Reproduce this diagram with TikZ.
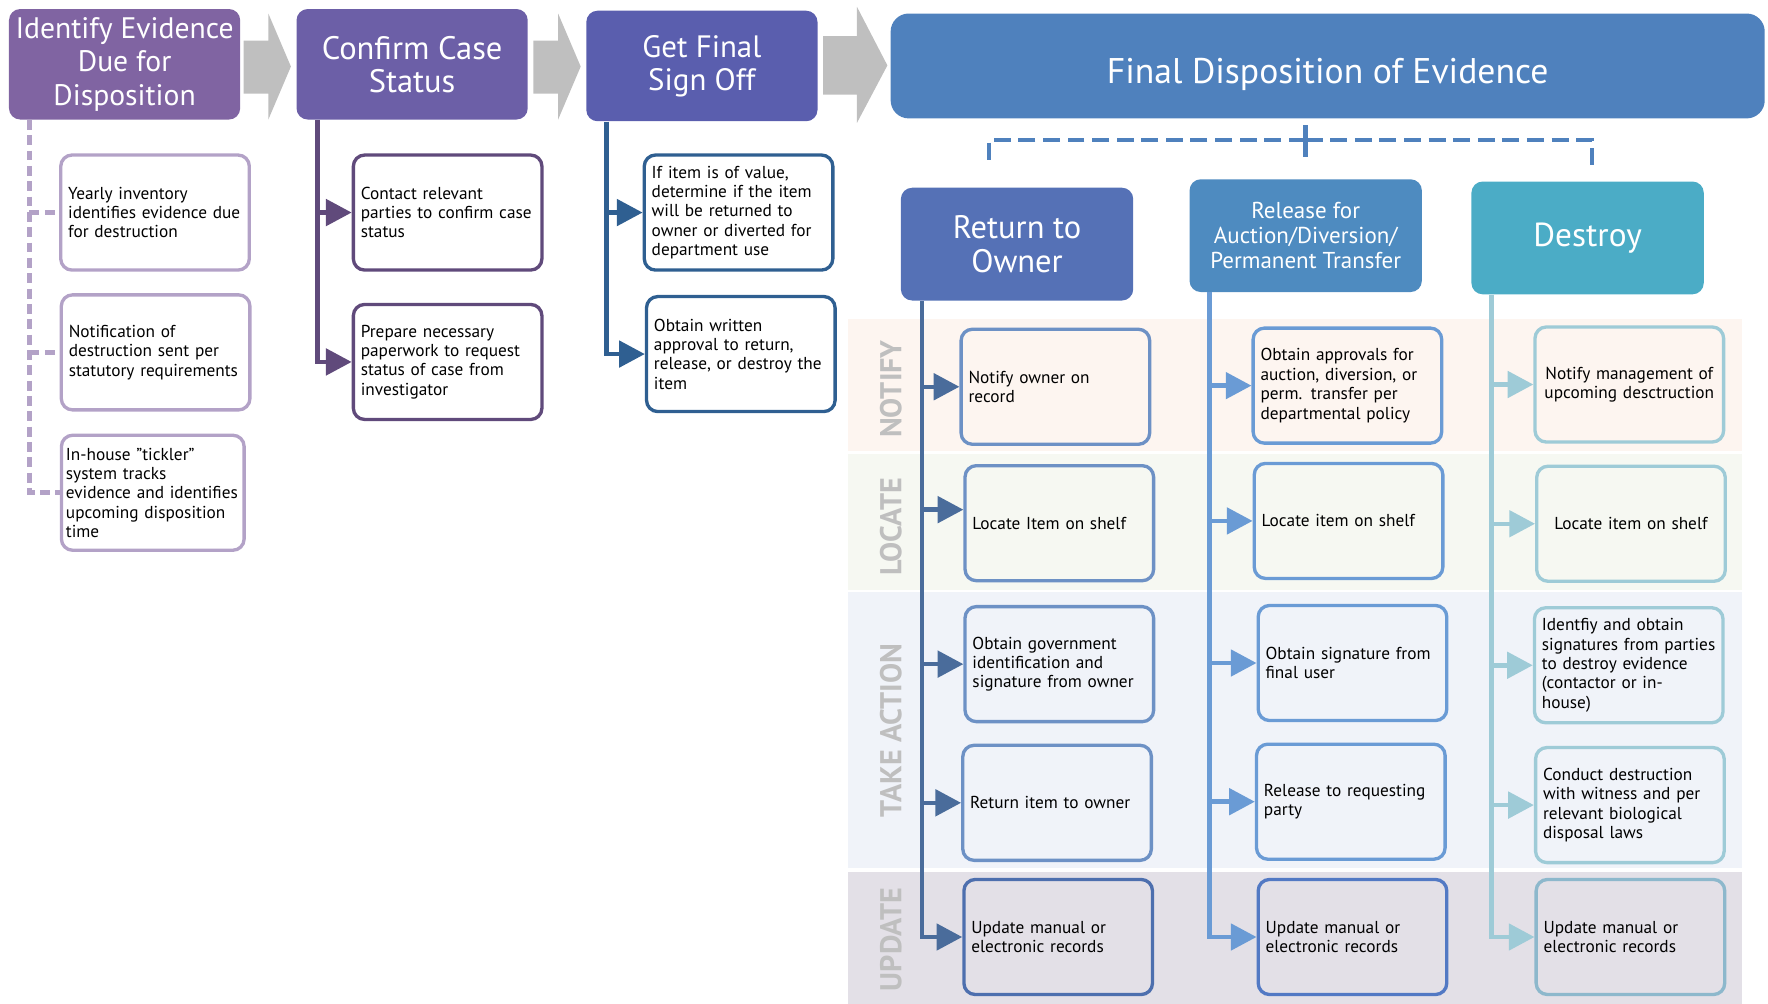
\documentclass[tikz,border=0pt]{standalone}
\usepackage{fontspec}
\setmainfont{PT Sans}
\usetikzlibrary{arrows.meta,positioning}

\definecolor{idpurple}{HTML}{8064A2}
\definecolor{confpurple}{HTML}{6C5FA7}
\definecolor{signblue}{HTML}{5A5EAE}
\definecolor{finblue}{HTML}{4F81BD}
\definecolor{retblue}{HTML}{5571B6}
\definecolor{relblue}{HTML}{4E8BC0}
\definecolor{desteal}{HTML}{4BACC6}
\definecolor{chevgrey}{HTML}{BFBFBF}
\definecolor{lineA}{HTML}{B3A2C7}
\definecolor{lineB}{HTML}{604A7B}
\definecolor{lineC}{HTML}{2F5F91}
\definecolor{lineR}{HTML}{4A6C9B}
\definecolor{boxR}{HTML}{6D91C5}
\definecolor{boxRd}{HTML}{4D6FAE}
\definecolor{lineL}{HTML}{6A9BD5}
\definecolor{boxLd}{HTML}{5279C4}
\definecolor{lineD}{HTML}{9ECBD7}
\definecolor{boxDd}{HTML}{8DB8CC}
\definecolor{laneN}{HTML}{FDF5F0}
\definecolor{laneL}{HTML}{F6F8F2}
\definecolor{laneT}{HTML}{F0F3F9}
\definecolor{laneU}{HTML}{E3E0E7}
\definecolor{lanetext}{HTML}{BFBFBF}

\tikzset{
	hdr/.style={rounded corners=2.5mm, fill=#1, text=white, align=center, inner sep=0pt,
		minimum width=5.125cm, minimum height=2.45cm, font=\fontsize{19.5}{21}\selectfont},
	task/.style={draw=#1, line width=2.1pt, rounded corners=2.5mm, align=left,
		text width=3.85cm, inner xsep=1.65mm, inner ysep=0pt, minimum height=2.55cm,
		font=\fontsize{10.9}{12.2}\selectfont},
	lane/.style={text=lanetext, rotate=90, font=\bfseries\fontsize{19}{19}\selectfont},
	flow/.style={draw=#1, line width=1mm},
	bigarr/.style={-{Triangle[length=5.7mm,width=5.8mm]}},
	dashA/.style={draw=lineA, line width=1mm, dash pattern=on 2.2mm off 1.2mm},
	dashlink/.style={draw=finblue, line width=1mm, dash pattern=on 3.75mm off 1.7mm},
	chev/.style={fill=chevgrey}
}

\begin{document}
\begin{tikzpicture}[x=0.025cm, y=-0.025cm]
	\useasboundingbox (0,0) rectangle (1568,890);

	% swim lanes
	\fill[laneN] (752,283) rectangle (1545,400);
	\fill[laneL] (752,403) rectangle (1545,523);
	\fill[laneT] (752,525) rectangle (1545,770);
	\fill[laneU] (752,773) rectangle (1545,890);
	\node[lane] (notify) at (790,345) {NOTIFY};
	\node[lane] (locate) at (790,467) {LOCATE};
	\node[lane] (action) at (790,648) {TAKE ACTION};
	\node[lane] (update) at (790,833) {UPDATE};

	% top row
	\node[hdr=idpurple, font=\fontsize{18.7}{21}\selectfont] (ident) at (110.5,57) {Identify Evidence\\Due for\\Disposition};
	\node[hdr=confpurple, font=\fontsize{20.5}{21}\selectfont] (conf) at (365.5,57) {Confirm Case\\Status};
	\node[hdr=signblue] (sign) at (622.5,58.5) {Get Final\\Sign Off};
	\node[hdr=finblue, minimum width=19.375cm, minimum height=2.325cm, rounded corners=4mm,
		text height=27pt, text depth=5pt,
		font=\fontsize{22.5}{24}\selectfont] (fin) at (1177.5,58.5) {Final Disposition of Evidence};

	\fill[chev] (216,36) -- (238,36) -- (238,12) -- (258,59) -- (238,106) -- (238,83) -- (216,83) -- cycle;
	\fill[chev] (473,36) -- (495,36) -- (495,12) -- (515,59) -- (495,106) -- (495,83) -- (473,83) -- cycle;
	\fill[chev] (730,32) -- (760,32) -- (760,6) -- (787,58) -- (760,109) -- (760,84) -- (730,84) -- cycle;

	% dispositions
	\node[hdr=retblue, minimum width=5.15cm, minimum height=2.5cm, font=\fontsize{20.5}{21}\selectfont] (ret) at (902,216.5) {Return to\\Owner};
	\node[hdr=relblue, minimum width=5.15cm, minimum height=2.5cm,
		font=\fontsize{14.5}{15.6}\selectfont] (rel) at (1158,209) {Release for\\Auction/Diversion/\\Permanent Transfer};
	\node[hdr=desteal, minimum width=5.15cm, minimum height=2.5cm, font=\fontsize{21}{21}\selectfont] (dest) at (1408,211) {Destroy};

	\coordinate (split) at (1158,124);
	\draw[dashlink] ([yshift=4mm]fin.south -| split) -- (split);
	\draw[dashlink, shorten >=4.75mm] (split) -| ([xshift=-6.25mm]ret.north);
	\draw[dashlink, shorten >=3.5mm] (split) -- (rel.north);
	\draw[dashlink, shorten >=3.25mm] (split) -| ([xshift=1mm]dest.north);

	% identify
	\node[task=lineA] (yearly) at (137.5,188.5) {Yearly inventory\\identifies evidence due\\for destruction};
	\node[task=lineA] (notif) at (138,312.5) {Notification of\\destruction sent per\\statutory requirements};
	\node[task=lineA, inner xsep=1mm] (tickler) at (135.5,437) {In-house "tickler"\\system tracks\\evidence and identifies\\upcoming disposition\\time};
	\coordinate (ta) at ([xshift=4.6mm]ident.south west);
	\draw[dashA] (ta) |- (tickler.west);
	\draw[dashA] (ta |- yearly.west) -- (yearly.west);
	\draw[dashA] (ta |- notif.west) -- (notif.west);

	% confirm
	\node[task=lineB] (contact) at (397,188.5) {Contact relevant\\parties to confirm case\\status};
	\node[task=lineB] (paper) at (397,321) {Prepare necessary\\paperwork to request\\status of case from\\investigator};
	\coordinate (tb) at ([xshift=4.75mm]conf.south west);
	\draw[flow=lineB, bigarr] (tb) |- (paper.west);
	\draw[flow=lineB, bigarr] (tb |- contact.west) -- (contact.west);

	% sign off
	\node[task=lineC] (value) at (655,188.5) {If item is of value,\\determine if the item\\will be returned to\\owner or diverted for\\department use};
	\node[task=lineC] (approval) at (657,314) {Obtain written\\approval to return,\\release, or destroy the\\item};
	\coordinate (tc) at ([xshift=4.6mm]sign.south west);
	\draw[flow=lineC, bigarr] (tc) |- (approval.west);
	\draw[flow=lineC, bigarr] (tc |- value.west) -- (value.west);

	% return to owner
	\node[task=boxR] (notown) at (936,343) {Notify owner on\\record};
	\node[task=boxR] (locown) at (939.5,464) {Locate Item on shelf};
	\node[task=boxR] (idown) at (939.5,589) {Obtain government\\identification and\\signature from owner};
	\node[task=boxR] (retown) at (937.5,712) {Return item to owner};
	\node[task=boxRd] (updown) at (938.5,831) {Update manual or\\electronic records};
	\coordinate (t1) at ([xshift=4.75mm]ret.south west);
	\draw[flow=lineR, bigarr] (t1) |- (updown.west);
	\draw[flow=lineR, bigarr] (t1 |- notown.west) -- (notown.west);
	\draw[flow=lineR, bigarr] ([yshift=3mm]t1 |- locown.west) -- ([yshift=3mm]locown.west);
	\draw[flow=lineR, bigarr] (t1 |- idown.west) -- (idown.west);
	\draw[flow=lineR, bigarr] (t1 |- retown.west) -- (retown.west);

	% release
	\node[task=lineL] (approvrel) at (1195,342) {Obtain approvals for\\auction, diversion, or\\perm. transfer per\\departmental policy};
	\node[task=lineL] (locrel) at (1196,462) {Locate item on shelf};
	\node[task=lineL] (sigrel) at (1199.5,588) {Obtain signature from\\final user};
	\node[task=lineL] (relparty) at (1198,711) {Release to requesting\\party};
	\node[task=boxLd] (updrel) at (1199.5,831) {Update manual or\\electronic records};
	\coordinate (t2) at ([xshift=4.5mm]rel.south west);
	\draw[flow=lineL, bigarr] (t2) |- (updrel.west);
	\draw[flow=lineL, bigarr] (t2 |- approvrel.west) -- (approvrel.west);
	\draw[flow=lineL, bigarr] (t2 |- locrel.west) -- (locrel.west);
	\draw[flow=lineL, bigarr] (t2 |- sigrel.west) -- (sigrel.west);
	\draw[flow=lineL, bigarr] (t2 |- relparty.west) -- (relparty.west);

	% destroy
	\node[task=lineD, align=center] (notdest) at (1445,341) {Notify management of\\upcoming desctruction};
	\node[task=lineD, align=center] (locdest) at (1446.5,464.5) {Locate item on shelf};
	\node[task=lineD] (sigdest) at (1444.5,590) {Identfiy and obtain\\signatures from parties\\to destroy evidence\\(contactor or in-\\house)};
	\node[task=lineD] (conddest) at (1445.5,714) {Conduct destruction\\with witness and per\\relevant biological\\disposal laws};
	\node[task=boxDd] (upddest) at (1446,831) {Update manual or\\electronic records};
	\coordinate (t3) at ([xshift=4.5mm]dest.south west);
	\draw[flow=lineD, bigarr] (t3) |- (upddest.west);
	\draw[flow=lineD, bigarr] (t3 |- notdest.west) -- (notdest.west);
	\draw[flow=lineD, bigarr] (t3 |- locdest.west) -- (locdest.west);
	\draw[flow=lineD, bigarr] (t3 |- sigdest.west) -- (sigdest.west);
	\draw[flow=lineD, bigarr] (t3 |- conddest.west) -- (conddest.west);
\end{tikzpicture}
\end{document}
